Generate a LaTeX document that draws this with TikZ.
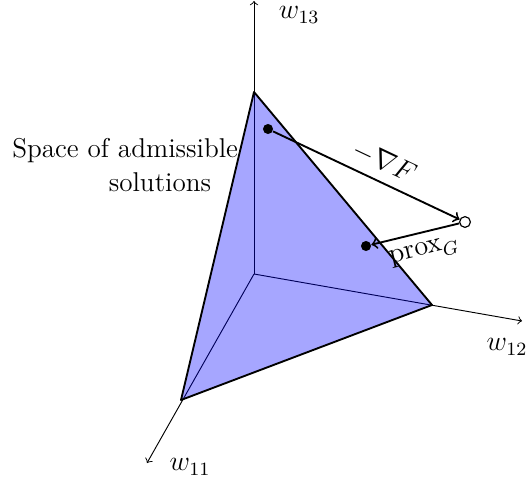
\documentclass[tikz,border=0pt]{standalone}
\begin{document}
\begin{tikzpicture}[x=0.015cm,y=-0.015cm,
  every node/.style={font=\fontsize{11.6}{14.2}\selectfont},
  axis/.style={->,line width=0.4pt},
  edge/.style={line width=0.8pt},
  move/.style={->,line width=0.8pt},
  dot/.style={circle,fill=black,inner sep=0pt,minimum size=4.3pt},
  odot/.style={circle,draw=black,fill=white,inner sep=0pt,minimum size=4.6pt,line width=0.5pt}]
\useasboundingbox (0,0) rectangle (526,487);
\coordinate (O) at (254,274);
\coordinate (Z) at (254,1);
\coordinate (Y) at (522,321);
\coordinate (X) at (147,463);
\coordinate (A) at (254,92);
\coordinate (B) at (432,305);
\coordinate (C) at (181,400);
\draw[axis] (O) -- (Z);
\draw[axis] (O) -- (Y);
\draw[axis] (O) -- (X);
\node[anchor=west,inner sep=1pt] (lz) at (276,15) {$w_{13}$};
\node (ly) at (507,347) {$w_{12}$};
\node (lx) at (190,467) {$w_{11}$};
% simplex
\fill[blue,opacity=0.35] (A) -- (B) -- (C) -- cycle;
\draw[edge,line join=round] (A) -- (B) -- (C) -- cycle;
% points
\node[dot] (p1) at (268,129) {};
\node[dot] (p2) at (366,246) {};
\node[odot] (q) at (465,222) {};
\draw[move] (p1) -- node[sloped,above,pos=0.55,inner sep=3.5pt] (lf) {$-\nabla F$} (q);
\draw[move] (q) -- node[sloped,below,pos=0.45,inner sep=4pt] (lg) {$\mathrm{prox}_G$} (p2);
\node[align=left,anchor=west] (txt) at (4,165) {Space of admissible\\\hspace*{3.55em}solutions};
\end{tikzpicture}
\end{document}
